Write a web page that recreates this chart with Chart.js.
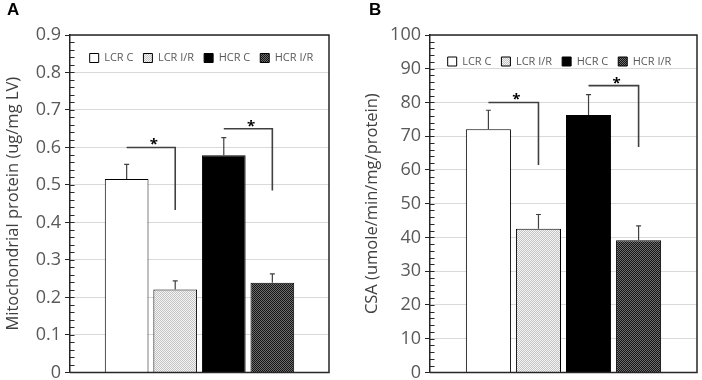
<!DOCTYPE html>
<html>
<head>
<meta charset="utf-8">
<script src="https://cdn.jsdelivr.net/npm/chart.js@4.4.1/dist/chart.umd.min.js"></script>
<style>
  body { margin: 0; background: #fff; }
  #wrap { position: relative; width: 702px; height: 380px; }
  .panel { position: absolute; top: 0; width: 351px; height: 380px; }
  .tag { position: absolute; top: 1px; font: bold 17px "Liberation Sans", Arial, sans-serif; line-height: 1; color: #000; }
</style>
</head>
<body>
<div id="wrap">
  <div class="panel" style="left:0"><canvas id="chartA"></canvas></div>
  <div class="panel" style="left:351px"><canvas id="chartB"></canvas></div>
  <div class="tag" style="left:7px">A</div>
  <div class="tag" style="left:369px">B</div>
</div>
<script>
const groups = ['LCR C', 'LCR I/R', 'HCR C', 'HCR I/R'];

// Panel A - mitochondrial protein (ug/mg LV)
const mitoMean = [0.516, 0.221, 0.579, 0.239];
const mitoSem = [0.039, 0.023, 0.047, 0.024];
// [from group, to group, bracket level, right leg ends at]
const mitoSig = [[0, 1, 0.60, 0.433], [2, 3, 0.65, 0.485]];

// Panel B - CSA (umole/min/mg/protein)
const csaMean = [72.1, 42.6, 76.3, 39.2];
const csaSem = [5.6, 4.2, 6.0, 4.2];
const csaSig = [[0, 1, 80, 61.5], [2, 3, 85, 66.8]];

const axisColor = '#262626';

// fine checker fill like the excel pattern fills
function checker(a, b) {
  const c = document.createElement('canvas');
  c.width = 2; c.height = 2;
  const g = c.getContext('2d');
  g.fillStyle = a; g.fillRect(0, 0, 2, 2);
  g.fillStyle = b; g.fillRect(0, 0, 1, 1); g.fillRect(1, 1, 1, 1);
  return g.createPattern(c, 'repeat');
}
const fills = ['#ffffff', checker('#f4f4f4', '#c4c4c4'), '#000000', checker('#6e6e6e', '#141414')];

const decor = {
  id: 'decor',
  afterLayout(chart, args, opts) {
    // put the legend inside the plot box, like the original
    const lg = chart.legend, ca = chart.chartArea;
    const h = lg.bottom - lg.top;
    lg.left = ca.left + opts.legendDx; lg.right = ca.right + opts.legendDx;
    lg.top = ca.top + opts.legendDy; lg.bottom = lg.top + h;
  },
  afterDatasetsDraw(chart, args, opts) {
    const ctx = chart.ctx, y = chart.scales.y;
    ctx.save();
    // error bars (upper only)
    ctx.strokeStyle = '#404040';
    ctx.lineWidth = 1.2;
    chart.data.datasets.forEach((ds, i) => {
      const bar = chart.getDatasetMeta(i).data[0];
      const y0 = y.getPixelForValue(ds.data[0]);
      const y1 = y.getPixelForValue(ds.data[0] + opts.sems[i]);
      ctx.beginPath();
      ctx.moveTo(bar.x, y0); ctx.lineTo(bar.x, y1);
      ctx.moveTo(bar.x - 2.5, y1); ctx.lineTo(bar.x + 2.5, y1);
      ctx.stroke();
    });
    // significance brackets
    ctx.lineWidth = 1.6;
    ctx.fillStyle = '#000';
    ctx.font = 'bold 15px "Open Sans"';
    ctx.textAlign = 'center';
    ctx.textBaseline = 'alphabetic';
    opts.sig.forEach(([a, b, lvl, end]) => {
      const xa = chart.getDatasetMeta(a).data[0].x;
      const xb = chart.getDatasetMeta(b).data[0].x;
      const yl = y.getPixelForValue(lvl);
      ctx.beginPath();
      ctx.moveTo(xa, yl); ctx.lineTo(xb, yl); ctx.lineTo(xb, y.getPixelForValue(end));
      ctx.stroke();
      ctx.fillText('*', (xa + xb) / 2 + 3, yl + 2);
    });
    ctx.restore();
  },
  afterDraw(chart, args, opts) {
    const ctx = chart.ctx, ca = chart.chartArea, y = chart.scales.y;
    ctx.save();
    ctx.strokeStyle = axisColor;
    // top, right and bottom edges of the plot box
    ctx.lineWidth = 1.5;
    ctx.beginPath();
    ctx.moveTo(ca.left, ca.top); ctx.lineTo(ca.right, ca.top);
    ctx.lineTo(ca.right, ca.bottom); ctx.lineTo(ca.left, ca.bottom);
    ctx.stroke();
    // inner tick marks (minor + major)
    ctx.lineWidth = 1;
    const n = Math.round(y.max / opts.minor);
    ctx.beginPath();
    for (let i = 1; i < n; i++) {
      const py = Math.round(y.getPixelForValue(i * opts.minor)) + 0.5;
      ctx.moveTo(ca.left, py); ctx.lineTo(ca.left + 4.5, py);
    }
    ctx.stroke();
    ctx.restore();
  }
};

function panel(id, means, sems, sig, ax) {
  const datasets = groups.map((g, i) => ({
    label: g,
    data: [means[i]],
    backgroundColor: fills[i],
    borderColor: '#000',
    borderWidth: 1,
    categoryPercentage: 0.75,
    barPercentage: 0.9
  }));
  return new Chart(document.getElementById(id), {
    type: 'bar',
    data: { labels: [''], datasets: datasets },
    options: {
      responsive: true,
      maintainAspectRatio: false,
      animation: false,
      layout: { padding: { top: 4, right: ax.padRight, bottom: 0, left: 0 } },
      plugins: {
        legend: {
          position: 'top',
          labels: { boxWidth: 9, boxHeight: 9, padding: 10, color: '#595959', font: { family: 'Open Sans', size: 11 } }
        },
        tooltip: { enabled: false },
        decor: { sems: sems, sig: sig, legendDx: ax.legendDx, legendDy: ax.legendDy, minor: ax.minor }
      },
      scales: {
        x: { display: false },
        y: {
          min: 0,
          max: ax.max,
          afterFit: s => { s.width = ax.width; },
          ticks: {
            stepSize: ax.step,
            padding: 4,
            color: '#595959',
            // small lineHeight keeps the bottom label from pushing the plot up
            font: { family: 'Open Sans', size: 18, lineHeight: 0.4 },
            callback: v => v === 0 ? '0' : v.toFixed(ax.digits)
          },
          grid: { color: '#d9d9d9', tickColor: axisColor, tickLength: 5, tickWidth: 1 },
          border: { color: axisColor, width: 1.5 },
          title: {
            display: true,
            text: ax.title,
            color: '#404040',
            font: { family: 'Open Sans', size: 16.5 },
            padding: { top: ax.titlePad, bottom: 0 }
          }
        }
      }
    },
    plugins: [decor]
  });
}

panel('chartA', mitoMean, mitoSem, mitoSig, {
  max: 0.9, step: 0.1, minor: 0.02, digits: 1, width: 70, padRight: 22,
  legendDx: 2, legendDy: 7.5, titlePad: 3, title: 'Mitochondrial protein (ug/mg LV)'
});
panel('chartB', csaMean, csaSem, csaSig, {
  max: 100, step: 10, minor: 2, digits: 0, width: 79, padRight: 5,
  legendDx: -4, legendDy: 11, titlePad: 11, title: 'CSA (umole/min/mg/protein)'
});
</script>
</body>
</html>
